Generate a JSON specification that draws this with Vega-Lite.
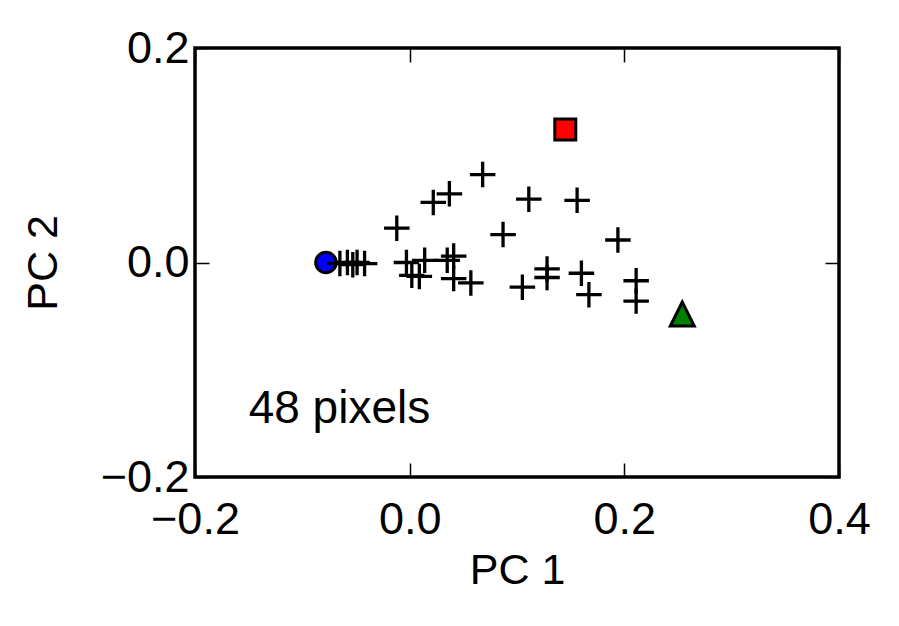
{
  "$schema": "https://vega.github.io/schema/vega-lite/v6.json",
  "autosize": "none",
  "width": 644,
  "height": 429,
  "padding": {"left": 195, "top": 48, "right": 60, "bottom": 149},
  "background": "white",
  "config": {
    "font": "Liberation Sans",
    "view": {"stroke": "black", "strokeWidth": 3.5},
    "axis": {
      "domain": false,
      "grid": false,
      "ticks": true,
      "tickColor": "black",
      "tickWidth": 1.5,
      "tickSize": -14,
      "labelFont": "Liberation Sans",
      "labelFontSize": 45,
      "labelColor": "black",
      "labelFlush": false,
      "labelOverlap": false,
      "labelBound": false,
      "titleFont": "Liberation Sans",
      "titleFontSize": 43,
      "titleFontWeight": "normal",
      "titleColor": "black"
    }
  },
  "datasets": {
    "pts": [
      {"pc1": -0.078, "pc2": 0.000, "kind": "circle"},
      {"pc1": 0.068, "pc2": 0.082, "kind": "plus"},
      {"pc1": 0.037, "pc2": 0.064, "kind": "plus"},
      {"pc1": 0.022, "pc2": 0.056, "kind": "plus"},
      {"pc1": 0.111, "pc2": 0.059, "kind": "plus"},
      {"pc1": 0.156, "pc2": 0.058, "kind": "plus"},
      {"pc1": -0.012, "pc2": 0.032, "kind": "plus"},
      {"pc1": 0.087, "pc2": 0.026, "kind": "plus"},
      {"pc1": 0.194, "pc2": 0.021, "kind": "plus"},
      {"pc1": -0.003, "pc2": 0.000, "kind": "plus"},
      {"pc1": 0.014, "pc2": 0.002, "kind": "plus"},
      {"pc1": 0.002, "pc2": -0.012, "kind": "plus"},
      {"pc1": 0.009, "pc2": -0.013, "kind": "plus"},
      {"pc1": 0.041, "pc2": 0.006, "kind": "plus"},
      {"pc1": 0.035, "pc2": 0.002, "kind": "plus"},
      {"pc1": 0.041, "pc2": -0.015, "kind": "plus"},
      {"pc1": 0.057, "pc2": -0.019, "kind": "plus"},
      {"pc1": 0.105, "pc2": -0.023, "kind": "plus"},
      {"pc1": 0.128, "pc2": -0.006, "kind": "plus"},
      {"pc1": 0.128, "pc2": -0.014, "kind": "plus"},
      {"pc1": 0.160, "pc2": -0.010, "kind": "plus"},
      {"pc1": 0.167, "pc2": -0.030, "kind": "plus"},
      {"pc1": 0.211, "pc2": -0.017, "kind": "plus"},
      {"pc1": 0.211, "pc2": -0.036, "kind": "plus"},
      {"pc1": -0.065, "pc2": -0.001, "kind": "plus"},
      {"pc1": -0.058, "pc2": 0.000, "kind": "plus"},
      {"pc1": -0.053, "pc2": -0.002, "kind": "plus"},
      {"pc1": -0.049, "pc2": 0.000, "kind": "plus"},
      {"pc1": -0.042, "pc2": -0.001, "kind": "plus"},
      {"pc1": 0.145, "pc2": 0.124, "kind": "square"},
      {"pc1": 0.254, "pc2": -0.048, "kind": "triangle"}
    ],
    "notes": [
      {"pc1": -0.15, "pc2": -0.15, "label": "48 pixels"}
    ]
  },
  "layer": [
    {
      "data": {"name": "pts"},
      "transform": [{"filter": "datum.kind === 'circle'"}],
      "mark": {"type": "point", "shape": "circle", "filled": true, "fill": "#0000ff", "stroke": "black", "strokeWidth": 3, "size": 420, "opacity": 1},
      "encoding": {
        "x": {"field": "pc1", "type": "quantitative", "title": "PC 1",
              "scale": {"domain": [-0.2, 0.4], "nice": false, "zero": false},
              "axis": {"orient": "bottom", "values": [-0.2, 0, 0.2, 0.4], "format": ".1f", "labelPadding": 34, "titlePadding": 7}},
        "y": {"field": "pc2", "type": "quantitative", "title": "PC 2",
              "scale": {"domain": [-0.2, 0.2], "nice": false, "zero": false},
              "axis": {"orient": "left", "values": [-0.2, 0, 0.2], "format": ".1f", "labelPadding": 20, "titlePadding": 35}}
      }
    },
    {
      "data": {"name": "pts"},
      "transform": [{"filter": "datum.kind === 'plus'"}],
      "mark": {"type": "point", "shape": "M-1,0H1M0,-1V1", "filled": false, "stroke": "black", "strokeWidth": 3.3, "size": 650, "opacity": 1},
      "encoding": {
        "x": {"field": "pc1", "type": "quantitative", "axis": null},
        "y": {"field": "pc2", "type": "quantitative", "axis": null}
      }
    },
    {
      "data": {"name": "pts"},
      "transform": [{"filter": "datum.kind === 'square'"}],
      "mark": {"type": "point", "shape": "square", "filled": true, "fill": "#ff0000", "stroke": "black", "strokeWidth": 3, "size": 441, "opacity": 1},
      "encoding": {
        "x": {"field": "pc1", "type": "quantitative", "axis": null},
        "y": {"field": "pc2", "type": "quantitative", "axis": null}
      }
    },
    {
      "data": {"name": "pts"},
      "transform": [{"filter": "datum.kind === 'triangle'"}],
      "mark": {"type": "point", "shape": "M0,-1L-1,1L1,1Z", "filled": true, "fill": "#008000", "stroke": "black", "strokeWidth": 3, "size": 576, "opacity": 1},
      "encoding": {
        "x": {"field": "pc1", "type": "quantitative",
              "axis": {"orient": "top", "values": [-0.2, 0, 0.2, 0.4], "labels": false, "title": null}},
        "y": {"field": "pc2", "type": "quantitative",
              "axis": {"orient": "right", "values": [-0.2, 0, 0.2], "labels": false, "title": null}}
      }
    },
    {
      "data": {"name": "notes"},
      "mark": {"type": "text", "align": "left", "baseline": "alphabetic", "fontSize": 46, "font": "Liberation Sans", "color": "black"},
      "encoding": {
        "x": {"field": "pc1", "type": "quantitative", "axis": null},
        "y": {"field": "pc2", "type": "quantitative", "axis": null},
        "text": {"field": "label"}
      }
    }
  ],
  "resolve": {"axis": {"x": "independent", "y": "independent"}}
}
